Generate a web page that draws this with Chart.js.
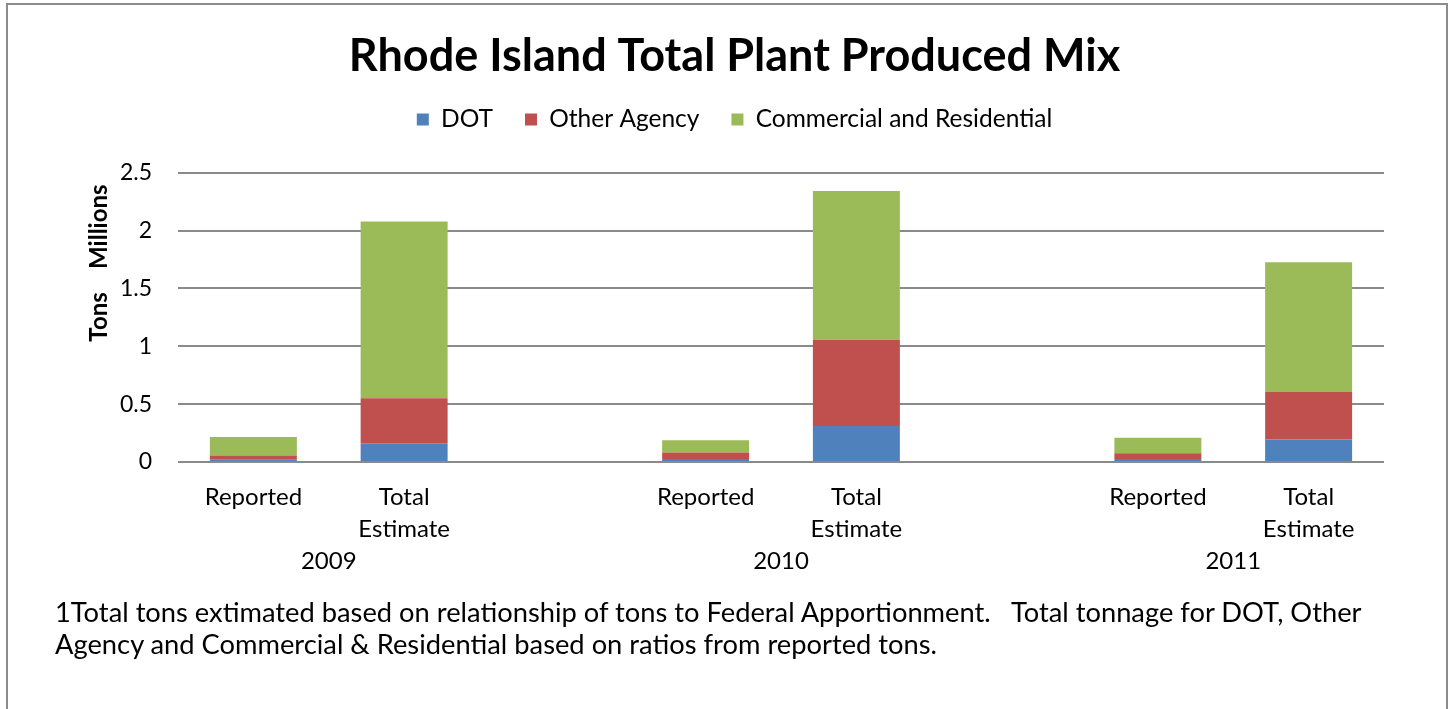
<!DOCTYPE html>
<html>
<head>
<meta charset="utf-8">
<script src="https://cdn.jsdelivr.net/npm/chart.js@4/dist/chart.umd.min.js"></script>
<style>
  html, body { margin: 0; padding: 0; background: #fff; }
  #frame {
    position: absolute; left: 6px; top: 3px;
    width: 1438px; height: 720px;
    border: 2px solid #8c8c8c; border-bottom: none;
  }
  #wrap { position: absolute; left: 0; top: 0; width: 1453px; height: 709px; }
  #note {
    position: absolute; left: 55px; top: 596px;
    font-family: Lato, sans-serif; font-size: 27.3px; line-height: 32px;
    color: #000; white-space: pre;
  }
</style>
</head>
<body>
<div id="frame"></div>
<div id="wrap"><canvas id="myChart" width="1453" height="709"></canvas></div>
<div id="note">1Total tons extimated based on relationship of tons to Federal Apportionment.   Total tonnage for DOT, Other
Agency and Commercial &amp; Residential based on ratios from reported tons.</div>
<script>
// categories: two bars per year, empty slot between years
var labels = ['Reported', ['Total', 'Estimate'], '', 'Reported', ['Total', 'Estimate'], '', 'Reported', ['Total', 'Estimate']];
var years = ['2009', '2010', '2011'];
// index of first bar in each year
var yearStart = [0, 3, 6];

// tons, millions
var dot        = [0.020, 0.163, null, 0.025, 0.312, null, 0.025, 0.195];
var otherAgcy  = [0.036, 0.389, null, 0.058, 0.745, null, 0.050, 0.409];
var commRes    = [0.161, 1.527, null, 0.106, 1.286, null, 0.134, 1.123];

var font = 'Lato, sans-serif';

// year labels under each pair of bars
var yearLabels = {
    id: 'yearLabels',
    afterDraw: function(chart) {
        var x = chart.scales.x;
        var c = chart.ctx;
        c.save();
        c.font = '24px ' + font;
        c.fillStyle = '#000';
        c.textAlign = 'center';
        c.textBaseline = 'middle';
        for (var i = 0; i < years.length; i++) {
            var a = x.getPixelForValue(yearStart[i]);
            var b = x.getPixelForValue(yearStart[i] + 1);
            c.fillText(years[i], (a + b) / 2, 561);
        }
        c.restore();
    }
};

var ctx = document.getElementById('myChart').getContext('2d');
var myChart = new Chart(ctx, {
    type: 'bar',
    data: {
        labels: labels,
        datasets: [
            { label: 'DOT', data: dot, backgroundColor: '#4F81BD' },
            { label: 'Other Agency', data: otherAgcy, backgroundColor: '#C0504D' },
            { label: 'Commercial and Residential', data: commRes, backgroundColor: '#9BBB59' }
        ]
    },
    options: {
        responsive: false,
        animation: false,
        layout: { padding: { left: 85, right: 69, top: 10, bottom: 137 } },
        datasets: { bar: { categoryPercentage: 1, barPercentage: 0.577 } },
        plugins: {
            title: {
                display: true,
                text: 'Rhode Island Total Plant Produced Mix',
                color: '#000',
                font: { family: font, size: 45, weight: 'bold', lineHeight: 0.85 },
                padding: { top: 27, bottom: 0 }
            },
            // blank spacer between legend and plot
            subtitle: {
                display: true,
                text: ' ',
                weight: 500,
                font: { size: 1, lineHeight: 1 },
                padding: { top: 0, bottom: 30 }
            },
            legend: {
                position: 'top',
                labels: {
                    color: '#000',
                    boxWidth: 12, boxHeight: 12,
                    padding: 32,
                    font: { family: font, size: 24.5 }
                }
            },
            tooltip: { enabled: false }
        },
        scales: {
            x: {
                stacked: true,
                grid: { display: false, drawTicks: false },
                border: { display: false },
                ticks: {
                    color: '#000', maxRotation: 0, autoSkip: false, padding: 19,
                    font: { family: font, size: 24, lineHeight: 1.33 }
                },
                afterFit: function(s) { s.height = 110; }
            },
            y: {
                stacked: true,
                min: 0, max: 2.5,
                ticks: {
                    stepSize: 0.5, color: '#000', padding: 26,
                    font: { family: font, size: 23 },
                    callback: function(v) { return String(v); }
                },
                grid: { color: '#8a8a8a', lineWidth: 2, drawTicks: false },
                border: { display: false },
                title: {
                    display: true, text: 'Tons    Millions  ', align: 'end',
                    color: '#000',
                    font: { family: font, size: 24, weight: 'bold' },
                    padding: { top: 0, bottom: 0 }
                },
                afterFit: function(s) { s.width = 93; }
            }
        }
    },
    plugins: [yearLabels]
});
</script>
</body>
</html>
